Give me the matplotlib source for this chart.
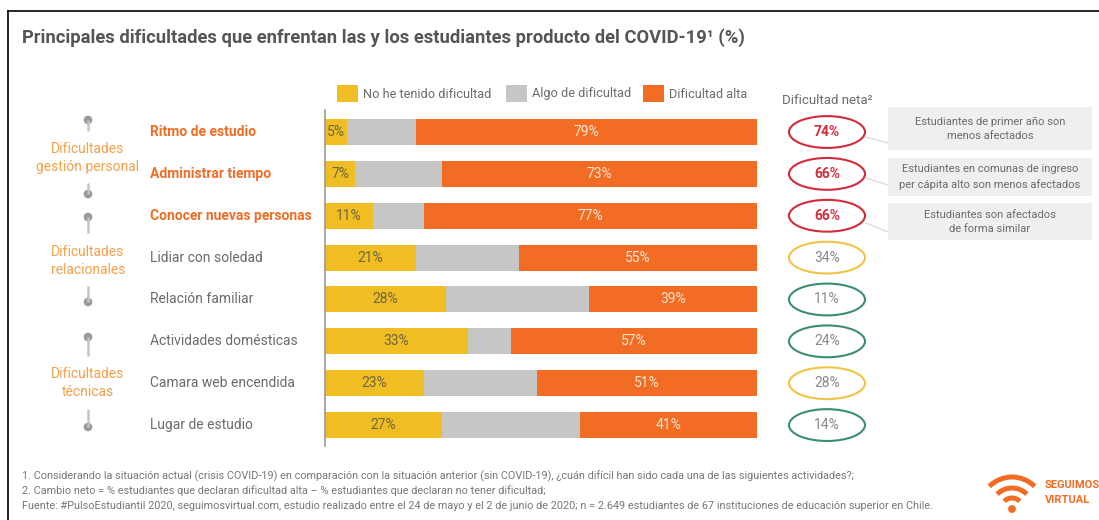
"""
Principales dificultades que enfrentan los estudiantes producto del COVID-19.
Stacked 100% bars with net difficulty ellipses and side notes.
"""
import matplotlib
matplotlib.use("Agg")
import matplotlib.pyplot as plt
from matplotlib.patches import Ellipse, Rectangle, Circle, Arc

plt.rcParams["font.family"] = ["Roboto", "DejaVu Sans"]

# ---------------------------------------------------------------------------
# Data
# ---------------------------------------------------------------------------
categories = ["Ritmo de estudio", "Administrar tiempo", "Conocer nuevas personas",
              "Lidiar con soledad", "Relación familiar", "Actividades domésticas",
              "Camara web encendida", "Lugar de estudio"]
sin_dificultad = [5, 7, 11, 21, 28, 33, 23, 27]
algo_dificultad = [16, 20, 12, 24, 33, 10, 26, 32]
dificultad_alta = [79, 73, 77, 55, 39, 57, 51, 41]
dificultad_neta = [74, 66, 66, 34, 11, 24, 28, 14]
neta_nivel = ["alta", "alta", "alta", "media", "baja", "baja", "media", "baja"]
destacadas = [True, True, True, False, False, False, False, False]
series_names = ["No he tenido dificultad", "Algo de dificultad", "Dificultad alta"]
grupos = ["Dificultades\ngestión personal", "Dificultades\nrelacionales", "Dificultades\ntécnicas"]
notas = ["Estudiantes de primer año son\nmenos afectados",
         "Estudiantes en comunas de ingreso\nper cápita alto son menos afectados",
         "Estudiantes son afectados\nde forma similar"]
footnotes = [
    "1. Considerando la situación actual (crisis COVID-19) en comparación con la situación anterior "
    "(sin COVID-19), ¿cuán difícil han sido cada una de las siguientes actividades?;",
    "2. Cambio neto = % estudiantes que declaran dificultad alta – % estudiantes que declaran no tener dificultad;",
    "Fuente: #PulsoEstudiantil 2020, seguimosvirtual.com, estudio realizado entre el 24 de mayo y el 2 de junio "
    "de 2020; n = 2.649 estudiantes de 67 instituciones de educación superior en Chile.",
]

YELLOW, GRAY, ORANGE = "#F0BE22", "#C6C6C6", "#F26C24"
NET_COLORS = {"alta": "#D42B3A", "media": "#F0C545", "baja": "#3B8F70"}
TXT = "#6b6b6b"

W, H = 1099, 520
fig = plt.figure(figsize=(W / 100, H / 100), dpi=100)

# overlay in pixel coordinates for frame, title, legend, notes and logo
ov = fig.add_axes([0, 0, 1, 1])
ov.set_xlim(0, W); ov.set_ylim(H, 0); ov.axis("off")
ov.plot([8, W], [11, 11], color="black", lw=1.2)
ov.plot([8, 8], [11, H], color="black", lw=1.2)

ov.text(22, 38, "Principales dificultades que enfrentan las y los estudiantes producto del COVID-19¹ (%)",
        fontsize=13.2, fontweight="bold", color="#555555", va="center", ha="left")

# legend
for x0, col, name in zip([337, 506, 643], [YELLOW, GRAY, ORANGE], series_names):
    ov.add_patch(Rectangle((x0, 85), 21, 17, color=col, lw=0))
    ov.text(x0 + 26, 94, name, fontsize=9.2, color=TXT, va="center", ha="left")

ov.text(827, 101, "Dificultad neta²", fontsize=9.5, color=TXT, ha="center", va="center")

# group labels with pins
PIN = "#9a9a9a"
for label, ly, top, bot in zip(grupos, [158, 261, 383], [(120, 131), (217, 233), (337, 356)],
                               [(183, 194), (286, 302), (409, 427)]):
    ov.text(88, ly, label, fontsize=10, color="#F5A04A", ha="center", va="center", linespacing=1.35)
    ov.plot([88, 88], top, color="#c4c4c4", lw=1.8, solid_capstyle="butt")
    ov.add_patch(Circle((88, top[0]), 3.6, color=PIN))
    ov.plot([88, 88], bot, color="#c4c4c4", lw=1.8, solid_capstyle="butt")
    ov.add_patch(Circle((88, bot[1]), 3.6, color=PIN))

# side notes
for (y0, y1), nota in zip([(107, 150), (158, 196), (203, 240)], notas):
    ov.add_patch(Rectangle((888, y0), 204, y1 - y0, color="#efefef", lw=0))
    ov.text(990, (y0 + y1) / 2, nota, fontsize=8, color=TXT, ha="center", va="center", linespacing=1.5)
for ya, yb in [(137, 143), (178, 185), (223, 232)]:
    ov.plot([866, 888], [ya, yb], color="#dddddd", lw=1)

# footnotes
for k, t in enumerate(footnotes):
    ov.text(22, 476 + 15 * k, t, fontsize=7.8, color="#777777", ha="left", va="center")

# logo
cx, cy = 1012, 509
for r in [32, 21, 11]:
    ov.add_patch(Arc((cx, cy), 2 * r, 2 * r, theta1=225, theta2=315, color=ORANGE, lw=3.6))
ov.add_patch(Circle((cx, cy), 3.2, color=ORANGE))
ov.text(1045, 485, "SEGUIMOS", fontsize=8, fontweight="bold", color=ORANGE, va="center", ha="left")
ov.text(1045, 500, "VIRTUAL", fontsize=8, fontweight="bold", color=ORANGE, va="center", ha="left")

# ---------------------------------------------------------------------------
# Bars
# ---------------------------------------------------------------------------
ax = fig.add_axes([325 / W, (H - 446) / H, 432 / W, 336 / H])
ax.set_facecolor("none")
ax.set_xlim(0, 100)
ax.set_ylim(7.5, -0.526)
y = list(range(len(categories)))
left2 = [a + b for a, b in zip(sin_dificultad, algo_dificultad)]
ax.barh(y, sin_dificultad, height=0.62, color=YELLOW, lw=0)
ax.barh(y, algo_dificultad, left=sin_dificultad, height=0.62, color=GRAY, lw=0)
ax.barh(y, dificultad_alta, left=left2, height=0.62, color=ORANGE, lw=0)

for i in y:
    ax.text(max(sin_dificultad[i] / 2, 2.6), i, f"{sin_dificultad[i]}%", fontsize=10,
            color="#6f6540", ha="center", va="center")
    ax.text(left2[i] + dificultad_alta[i] / 2, i, f"{dificultad_alta[i]}%", fontsize=10,
            color="#fde3d2", ha="center", va="center")
    ax.text(-40.5, i, categories[i], fontsize=10, ha="left", va="center",
            color=ORANGE if destacadas[i] else TXT,
            fontweight="bold" if destacadas[i] else "normal", clip_on=False)
    ax.add_patch(Ellipse((116.2, i), 17.6, 0.76, fill=False, lw=1.5,
                         edgecolor=NET_COLORS[neta_nivel[i]], clip_on=False))
    ax.text(116.2, i, f"{dificultad_neta[i]}%", fontsize=10, ha="center", va="center",
            color=NET_COLORS["alta"] if destacadas[i] else "#8a8a8a",
            fontweight="bold" if destacadas[i] else "normal", clip_on=False)

ax.set_xticks([]); ax.set_yticks([])
for s in ["top", "right", "bottom"]:
    ax.spines[s].set_visible(False)
ax.spines["left"].set_color("#999999")
ax.spines["left"].set_linewidth(1.2)

fig.savefig("out.png", dpi=100)
